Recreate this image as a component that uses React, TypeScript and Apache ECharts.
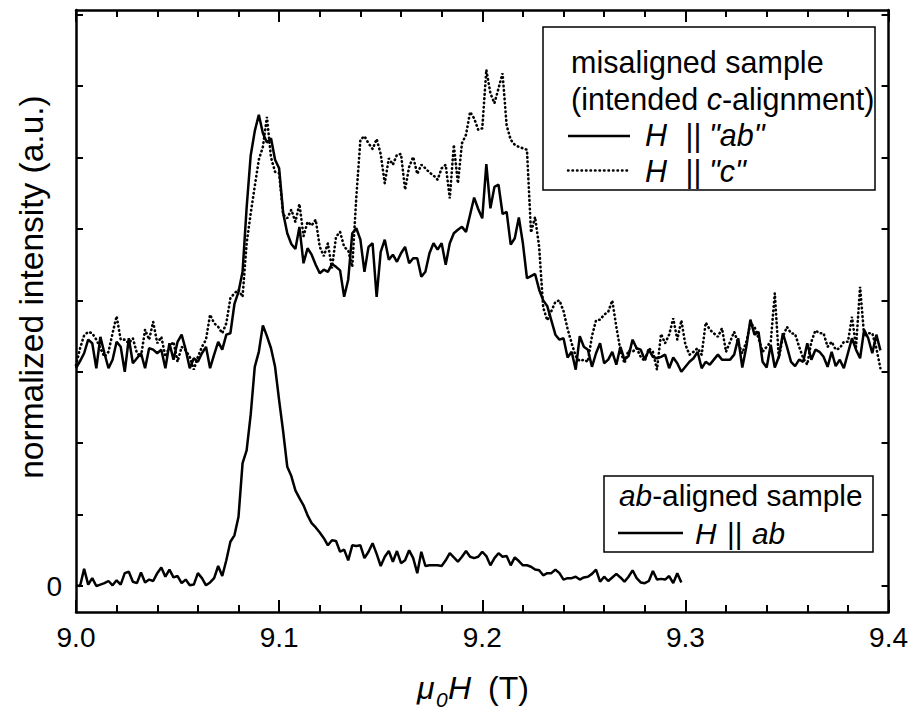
import React, { useEffect, useRef } from "react";
import * as echarts from "echarts";

// Field grid of the measurement (tesla)
const FIELD_START = 9.0;
const FIELD_STEP = 0.002;

// ab-aligned sample, H || ab (normalized intensity, arbitrary units)
const abAlignedHab = [
  0.01, 0.0, 0.24, 0.02, 0.11, 0.0, 0.02, 0.04, 0.07, 0.01,
  0.08, 0.02, 0.18, 0.2, 0.06, 0.04, 0.19, 0.05, 0.09, 0.07,
  0.18, 0.26, 0.13, 0.23, 0.12, 0.14, 0.04, 0.09, 0.01, 0.02,
  0.18, 0.11, 0.01, 0.05, 0.11, 0.28, 0.14, 0.36, 0.62, 0.71,
  0.97, 1.72, 1.9, 2.4, 3.07, 3.28, 3.65, 3.5, 3.33, 3.07,
  2.6, 2.16, 1.67, 1.54, 1.34, 1.23, 1.13, 0.99, 0.88, 0.82,
  0.75, 0.67, 0.57, 0.64, 0.63, 0.48, 0.51, 0.36, 0.57, 0.56,
  0.57, 0.39, 0.48, 0.6, 0.45, 0.28, 0.41, 0.49, 0.34, 0.49,
  0.32, 0.36, 0.5, 0.39, 0.18, 0.48, 0.28, 0.29, 0.29, 0.29,
  0.28, 0.36, 0.46, 0.4, 0.34, 0.41, 0.49, 0.41, 0.39, 0.41,
  0.48, 0.42, 0.29, 0.39, 0.46, 0.41, 0.42, 0.29, 0.4, 0.35,
  0.29, 0.29, 0.27, 0.23, 0.22, 0.15, 0.18, 0.18, 0.23, 0.18,
  0.09, 0.11, 0.11, 0.13, 0.09, 0.12, 0.13, 0.17, 0.23, 0.06,
  0.13, 0.07, 0.12, 0.17, 0.12, 0.06, 0.13, 0.22, 0.11, 0.05,
  0.04, 0.07, 0.21, 0.09, 0.1, 0.09, 0.14, 0.04, 0.18, 0.05,
];

// misaligned sample, H || "ab"
const misalignedHab = [
  3.05, 3.15, 3.26, 3.45, 3.4, 3.05, 3.49, 3.26, 3.05, 3.17,
  3.42, 3.35, 3.0, 3.47, 3.12, 3.19, 3.26, 3.05, 3.33, 3.31,
  3.26, 3.31, 3.05, 3.4, 3.17, 3.42, 3.52, 3.31, 3.05, 3.19,
  3.14, 3.26, 3.35, 3.05, 3.24, 3.42, 3.31, 3.52, 3.54, 3.95,
  4.12, 4.4, 5.3, 6.03, 6.37, 6.6, 6.34, 6.21, 6.27, 5.97,
  5.85, 5.22, 4.94, 4.79, 4.72, 5.03, 4.52, 4.73, 4.64, 4.5,
  4.38, 4.43, 4.4, 4.51, 4.47, 4.42, 4.05, 4.29, 4.94, 5.01,
  4.85, 4.4, 4.75, 4.8, 4.05, 4.68, 4.85, 4.57, 4.64, 4.54,
  4.66, 4.75, 4.52, 4.59, 4.59, 4.33, 4.4, 4.66, 4.8, 4.71,
  4.8, 4.5, 4.8, 4.94, 4.99, 5.03, 4.96, 5.2, 5.44, 5.28,
  5.15, 5.91, 5.29, 5.59, 5.62, 5.21, 5.24, 4.78, 4.87, 5.16,
  4.8, 4.31, 4.34, 4.37, 4.15, 4.0, 3.92, 3.72, 3.52, 3.45,
  3.47, 3.2, 3.28, 3.03, 3.5, 3.35, 3.31, 3.07, 3.26, 3.4,
  3.12, 3.17, 3.28, 3.1, 3.35, 3.17, 3.22, 3.45, 3.33, 3.31,
  3.17, 3.31, 3.21, 3.19, 3.21, 3.24, 3.05, 3.2, 3.12, 3.0,
  3.07, 3.14, 3.19, 3.28, 3.05, 3.14, 3.1, 3.17, 3.24, 3.17,
  3.17, 3.17, 3.24, 3.47, 3.06, 3.35, 3.73, 3.52, 3.56, 3.14,
  3.06, 3.38, 3.06, 3.21, 3.54, 3.35, 3.14, 3.08, 3.17, 3.14,
  3.4, 3.17, 3.31, 3.28, 3.21, 3.07, 3.28, 3.08, 3.17, 3.05,
  3.26, 3.47, 3.31, 3.19, 3.59, 3.47, 3.26, 3.52, 3.3,
];

// misaligned sample, H || "c"
const misalignedHc = [
  3.09, 3.33, 3.51, 3.56, 3.54, 3.45, 3.33, 3.21, 3.28, 3.54,
  3.78, 3.45, 3.45, 3.4, 3.47, 3.26, 3.21, 3.59, 3.45, 3.7,
  3.4, 3.49, 3.21, 3.35, 3.42, 3.14, 3.35, 3.3, 3.21, 3.03,
  3.21, 3.35, 3.45, 3.8, 3.68, 3.63, 3.54, 3.68, 4.03, 4.1,
  4.15, 4.05, 4.8, 5.22, 5.6, 5.97, 6.15, 6.57, 6.0, 5.8,
  5.78, 5.2, 5.15, 5.27, 5.1, 5.35, 4.9, 5.1, 5.05, 5.13,
  4.75, 4.62, 4.8, 4.45, 4.89, 4.96, 4.75, 4.7, 4.47, 5.45,
  6.25, 6.3, 6.2, 6.12, 6.26, 6.05, 5.64, 5.99, 5.9, 6.04,
  6.05, 5.55, 5.87, 6.01, 5.77, 5.9, 5.85, 5.79, 5.75, 5.69,
  5.85, 5.9, 5.43, 6.18, 5.64, 6.2, 6.32, 6.64, 6.55, 6.39,
  6.41, 7.23, 6.9, 6.76, 6.97, 7.18, 6.45, 6.25, 6.18, 6.15,
  6.13, 6.11, 4.95, 5.17, 4.75, 3.9, 3.72, 3.85, 3.98, 4.0,
  3.85, 3.6, 3.4, 3.22, 3.15, 3.17, 3.14, 3.5, 3.72, 3.73,
  3.8, 3.84, 4.0, 3.63, 3.3, 3.12, 3.3, 3.28, 3.33, 3.21,
  3.15, 3.33, 3.28, 3.03, 3.53, 3.4, 3.52, 3.75, 3.45, 3.72,
  3.38, 3.24, 3.28, 3.33, 3.24, 3.69, 3.59, 3.54, 3.49, 3.61,
  3.28, 3.42, 3.56, 3.4, 3.26, 3.42, 3.68, 3.63, 3.47, 3.28,
  3.35, 3.42, 4.1, 3.19, 3.49, 3.63, 3.54, 3.53, 3.35, 3.19,
  3.1, 3.42, 3.58, 3.54, 3.54, 3.35, 3.42, 3.31, 3.33, 3.42,
  3.42, 3.77, 3.35, 4.19, 3.5, 3.54, 3.54, 3.33, 3.05,
];

// Axes
const X_MIN = 9.0;
const X_MAX = 9.4;
const X_INTERVAL = 0.1;
const Y_MIN = -0.364;
const Y_MAX = 8.067;
const Y_TICKS = [0, 1, 2, 3, 4, 5, 6, 7, 8];
const Y_TICK_LABELS = [0];

const FONT = '"Liberation Sans", Arial, Helvetica, sans-serif';

const toPairs = (vals: number[]) =>
  vals.map((v, i) => [+(FIELD_START + i * FIELD_STEP).toFixed(4), v]);

const black = "#000";
const axisLineStyle = { color: black, width: 2.5 };

const xCommon = (position: "top" | "bottom", showLabels: boolean) => ({
  type: "value",
  position,
  min: X_MIN,
  max: X_MAX,
  interval: X_INTERVAL,
  axisLine: { show: true, onZero: false, lineStyle: axisLineStyle },
  axisTick: { show: true, inside: true, length: 12, lineStyle: { color: black, width: 2 } },
  minorTick: { show: true, splitNumber: 5, length: 7, lineStyle: { color: black, width: 2 } },
  splitLine: { show: false },
  minorSplitLine: { show: false },
  axisLabel: {
    show: showLabels,
    formatter: (v: number) => v.toFixed(1),
    fontSize: 28,
    fontFamily: FONT,
    color: black,
    margin: 11,
  },
});

const yCommon = (position: "left" | "right", showLabels: boolean) => ({
  type: "value",
  position,
  min: Y_MIN,
  max: Y_MAX,
  axisLine: { show: true, onZero: false, lineStyle: axisLineStyle },
  axisTick: {
    show: true,
    inside: true,
    length: 7,
    customValues: Y_TICKS,
    lineStyle: { color: black, width: 2 },
  },
  splitLine: { show: false },
  axisLabel: {
    show: showLabels,
    customValues: Y_TICK_LABELS,
    formatter: (v: number) => String(Math.round(v)),
    fontSize: 28,
    fontFamily: FONT,
    color: black,
    margin: 14,
  },
});

const txt = (
  x: number,
  y: number,
  text: string,
  opts: { italic?: boolean; size?: number; align?: string; rotation?: number } = {}
) => ({
  type: "text",
  x,
  y,
  z: 100,
  rotation: opts.rotation || 0,
  style: {
    text,
    fontSize: opts.size || 30.5,
    fontFamily: FONT,
    fontStyle: opts.italic ? "italic" : "normal",
    fill: black,
    textAlign: opts.align || "left",
    textVerticalAlign: "middle",
    verticalAlign: "middle",
  },
});

const richTxt = (x: number, y: number, text: string, size: number) => ({
  type: "text",
  x,
  y,
  z: 100,
  style: {
    text,
    fontSize: size,
    fontFamily: FONT,
    fill: black,
    textAlign: "left",
    textVerticalAlign: "middle",
    verticalAlign: "middle",
    rich: {
      n: { fontSize: size, fontFamily: FONT, fill: black, color: black },
      i: { fontSize: size, fontFamily: FONT, fontStyle: "italic", fill: black, color: black },
    },
  },
});

const seg = (x1: number, y1: number, x2: number, y2: number, dotted?: boolean) => ({
  type: "line",
  z: 100,
  shape: { x1, y1, x2, y2 },
  style: dotted
    ? { stroke: black, lineWidth: 2.5, lineDash: [0.5, 4], lineCap: "round", fill: null }
    : { stroke: black, lineWidth: 2.5, fill: null },
});

const box = (x: number, y: number, width: number, height: number) => ({
  type: "rect",
  z: 99,
  shape: { x, y, width, height },
  style: { stroke: black, lineWidth: 1.5, fill: "#fff" },
});

export default function App() {
  const ref = useRef<HTMLDivElement>(null);

  useEffect(() => {
    if (!ref.current) return;
    const chart = echarts.init(ref.current, null, { renderer: "svg" });
    const option: any = {
      animation: false,
      backgroundColor: "#fff",
      grid: { left: 76, right: 20, top: 10, bottom: 99, containLabel: false },
      xAxis: [xCommon("bottom", true), xCommon("top", false)],
      yAxis: [yCommon("left", true), yCommon("right", false)],
      series: [
        {
          name: 'H || "c"',
          type: "line",
          xAxisIndex: 0,
          yAxisIndex: 0,
          data: toPairs(misalignedHc),
          showSymbol: false,
          symbol: "none",
          lineStyle: { color: black, width: 2.6, type: [0.5, 3.8], cap: "round" },
          z: 2,
        },
        {
          name: 'H || "ab"',
          type: "line",
          xAxisIndex: 0,
          yAxisIndex: 0,
          data: toPairs(misalignedHab),
          showSymbol: false,
          symbol: "none",
          lineStyle: { color: black, width: 2.5 },
          z: 3,
        },
        {
          name: "H || ab",
          type: "line",
          xAxisIndex: 0,
          yAxisIndex: 0,
          data: toPairs(abAlignedHab),
          showSymbol: false,
          symbol: "none",
          lineStyle: { color: black, width: 2.5 },
          z: 3,
        },
      ],
      graphic: [
        // legend 1
        box(543, 27, 332, 163),
        txt(571, 62, "misaligned sample"),
        richTxt(571, 99, "{n|(intended }{i|c}{n|-alignment)}", 30.5),
        seg(568, 136, 630, 136),
        txt(645, 135, "H", { italic: true }),
        txt(685.5, 135, "||"),
        txt(709, 135, '"ab"', { italic: true }),
        seg(568, 170.5, 630, 170.5, true),
        txt(645, 171, "H", { italic: true }),
        txt(685.5, 171, "||"),
        txt(709, 171, '"c"', { italic: true }),
        // legend 2
        box(604, 476, 269, 76),
        richTxt(619, 495.5, "{i|ab}{n|-aligned sample}", 29.8),
        seg(618, 533, 683, 533),
        txt(695, 533, "H", { italic: true, size: 29.8 }),
        txt(727, 533, "||", { size: 29.8 }),
        txt(752, 533, "ab", { italic: true, size: 29.8 }),
        // axis titles
        txt(31, 287, "normalized intensity (a.u.)", { size: 33.5, align: "center", rotation: Math.PI / 2 }),
        txt(417, 688, "\u03bc", { italic: true, size: 32 }),
        txt(436, 699, "0", { italic: true, size: 21 }),
        txt(448, 688, "H", { italic: true, size: 32 }),
        txt(488, 688, "(T)", { size: 32 }),
      ],
    };
    chart.setOption(option);
    return () => chart.dispose();
  }, []);

  return (
    <div
      ref={ref}
      style={{ position: "absolute", left: 0, top: 0, width: 911, height: 711, background: "#fff" }}
    />
  );
}
